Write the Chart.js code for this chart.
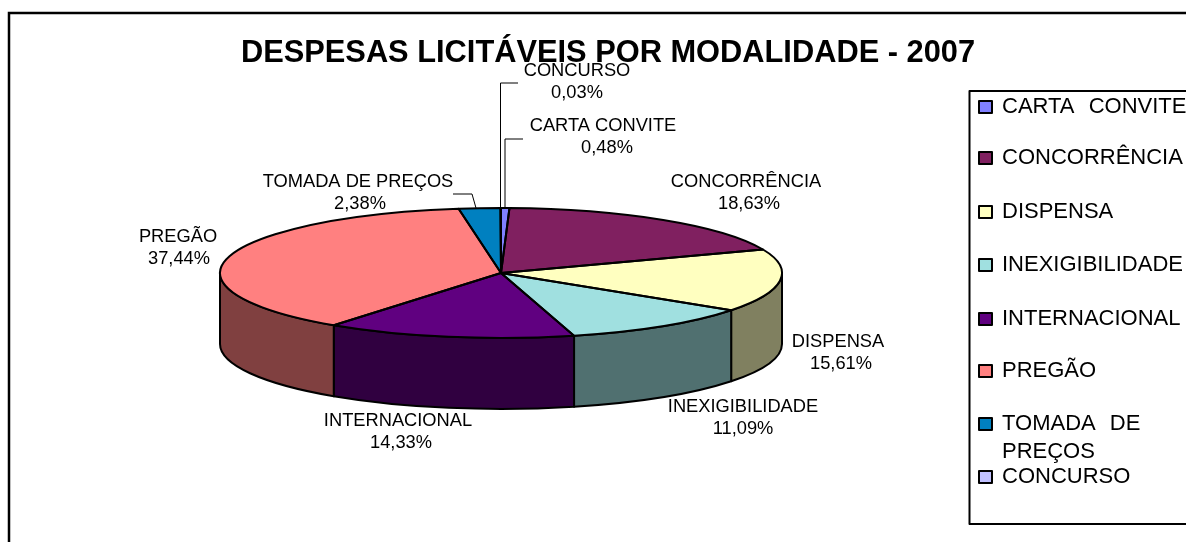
<!DOCTYPE html>
<html>
<head>
<meta charset="utf-8">
<style>
  html, body { margin: 0; padding: 0; background: #fff; overflow: hidden; }
  canvas { display: block; }
</style>
<script src="https://cdn.jsdelivr.net/npm/chart.js@4/dist/chart.umd.min.js"></script>
</head>
<body>
<canvas id="Chart" width="1186" height="542"></canvas>
<script>
const chartTitle = 'DESPESAS LICITÁVEIS POR MODALIDADE - 2007';
const categories = ['CARTA CONVITE', 'CONCORRÊNCIA', 'DISPENSA', 'INEXIGIBILIDADE', 'INTERNACIONAL', 'PREGÃO', 'TOMADA DE PREÇOS', 'CONCURSO'];
const shares = [0.48, 18.63, 15.61, 11.09, 14.33, 37.44, 2.38, 0.03];
const topColors = ['#8080FF', '#802060', '#FFFFC0', '#A0E0E0', '#600080', '#FF8080', '#0080C0', '#C0C0FF'];
const sideColors = ['#404080', '#401030', '#808060', '#507070', '#300040', '#804040', '#004060', '#606080'];

// where the flat pie is squashed to on the page
const pie = { x: 501, y: 273, rx: 281, ry: 65, depth: 71 };

// label centres, same order as categories
const labelSpots = [
  { x: 603, y: 126, px: 607 }, { x: 746, y: 182, px: 749 }, { x: 838, y: 342, px: 841 }, { x: 743, y: 407, px: 743 },
  { x: 398, y: 421, px: 401 }, { x: 178, y: 237, px: 179 }, { x: 358, y: 182, px: 360 }, { x: 577, y: 71, px: 577 }
];
const leaders = [
  [[505, 208], [505, 139], [523, 139]],
  [[500.5, 208], [500.5, 83], [518, 83]],
  [[476, 208], [472, 194], [453, 194]]
];
const legendRows = [107, 158, 212, 265, 319, 371, 424, 477];

const pieFont = '18.3px "Liberation Sans"';
const legendFont = '22px "Liberation Sans"';

function arcs(chart) {
  return chart.getDatasetMeta(0).data;
}

const flatPie = {
  id: 'flatPie',
  beforeDraw(chart) {
    const c = chart.ctx;
    c.save();
    c.fillStyle = '#fff';
    c.fillRect(0, 0, chart.width, chart.height);
    c.strokeStyle = '#000';
    c.lineWidth = 2.5;
    c.beginPath();
    c.moveTo(9, 542);
    c.lineTo(9, 13);
    c.lineTo(1186, 13);
    c.stroke();
    c.restore();
  },
  beforeDatasetsDraw(chart) {
    const c = chart.ctx;
    // side walls, only the front half of the rim shows
    c.save();
    c.strokeStyle = '#000';
    c.lineWidth = 2;
    c.lineJoin = 'round';
    arcs(chart).forEach((el, i) => {
      const a = Math.max(el.startAngle, 0);
      const b = Math.min(el.endAngle, Math.PI);
      if (a >= b) return;
      c.fillStyle = sideColors[i];
      c.beginPath();
      c.ellipse(pie.x, pie.y, pie.rx, pie.ry, 0, a, b);
      c.ellipse(pie.x, pie.y + pie.depth, pie.rx, pie.ry, 0, b, a, true);
      c.closePath();
      c.fill();
      c.stroke();
    });
    c.restore();
    // the library paints the top face through this transform
    const first = arcs(chart)[0];
    c.save();
    c.translate(pie.x, pie.y);
    c.scale(pie.rx / first.outerRadius, pie.ry / first.outerRadius);
    c.translate(-first.x, -first.y);
  },
  afterDatasetsDraw(chart) {
    const c = chart.ctx;
    c.restore();

    c.save();
    c.strokeStyle = '#000';
    c.lineWidth = 2;
    c.lineJoin = 'round';
    arcs(chart).forEach(el => {
      c.beginPath();
      c.moveTo(pie.x, pie.y);
      c.ellipse(pie.x, pie.y, pie.rx, pie.ry, 0, el.startAngle, el.endAngle);
      c.closePath();
      c.stroke();
    });

    // leader lines
    c.strokeStyle = '#000';
    c.lineWidth = 1;
    leaders.forEach(pts => {
      c.beginPath();
      pts.forEach((p, i) => i ? c.lineTo(p[0], p[1]) : c.moveTo(p[0], p[1]));
      c.stroke();
    });

    // data labels
    c.fillStyle = '#000';
    c.font = pieFont;
    c.textAlign = 'center';
    c.textBaseline = 'middle';
    categories.forEach((name, i) => {
      const s = labelSpots[i];
      c.fillText(name, s.x, s.y);
      c.fillText(shares[i].toFixed(2).replace('.', ',') + '%', s.px, s.y + 22);
    });

    // legend box, runs off the right edge like the original
    c.strokeStyle = '#000';
    c.lineWidth = 2;
    c.beginPath();
    c.moveTo(1186, 91);
    c.lineTo(969.5, 91);
    c.lineTo(969.5, 524);
    c.lineTo(1186, 524);
    c.stroke();

    c.font = legendFont;
    c.textAlign = 'left';
    c.wordSpacing = '8px';
    categories.forEach((name, i) => {
      const y = legendRows[i];
      c.fillStyle = topColors[i];
      c.fillRect(979, y - 6, 13, 12);
      c.strokeStyle = '#000';
      c.lineWidth = 2;
      c.strokeRect(979, y - 6, 13, 12);
      c.fillStyle = '#000';
      if (name === 'TOMADA DE PREÇOS') {
        c.fillText('TOMADA DE', 1002, y);
        c.fillText('PREÇOS', 1002, y + 28);
      } else {
        c.fillText(name, 1002, y);
      }
    });
    c.restore();
  }
};

new Chart('Chart', {
  type: 'pie',
  data: {
    labels: categories,
    datasets: [{
      data: shares,
      backgroundColor: topColors,
      borderWidth: 0
    }]
  },
  options: {
    responsive: false,
    animation: false,
    events: [],
    layout: { padding: { left: 30, top: 35, bottom: 60, right: 0 } },
    plugins: {
      legend: { display: false },
      tooltip: { enabled: false },
      title: {
        display: true,
        text: chartTitle,
        color: '#000',
        padding: 0,
        font: { family: '"Liberation Sans"', size: 30.8, weight: 'bold' }
      }
    }
  },
  plugins: [flatPie]
});
</script>
</body>
</html>
